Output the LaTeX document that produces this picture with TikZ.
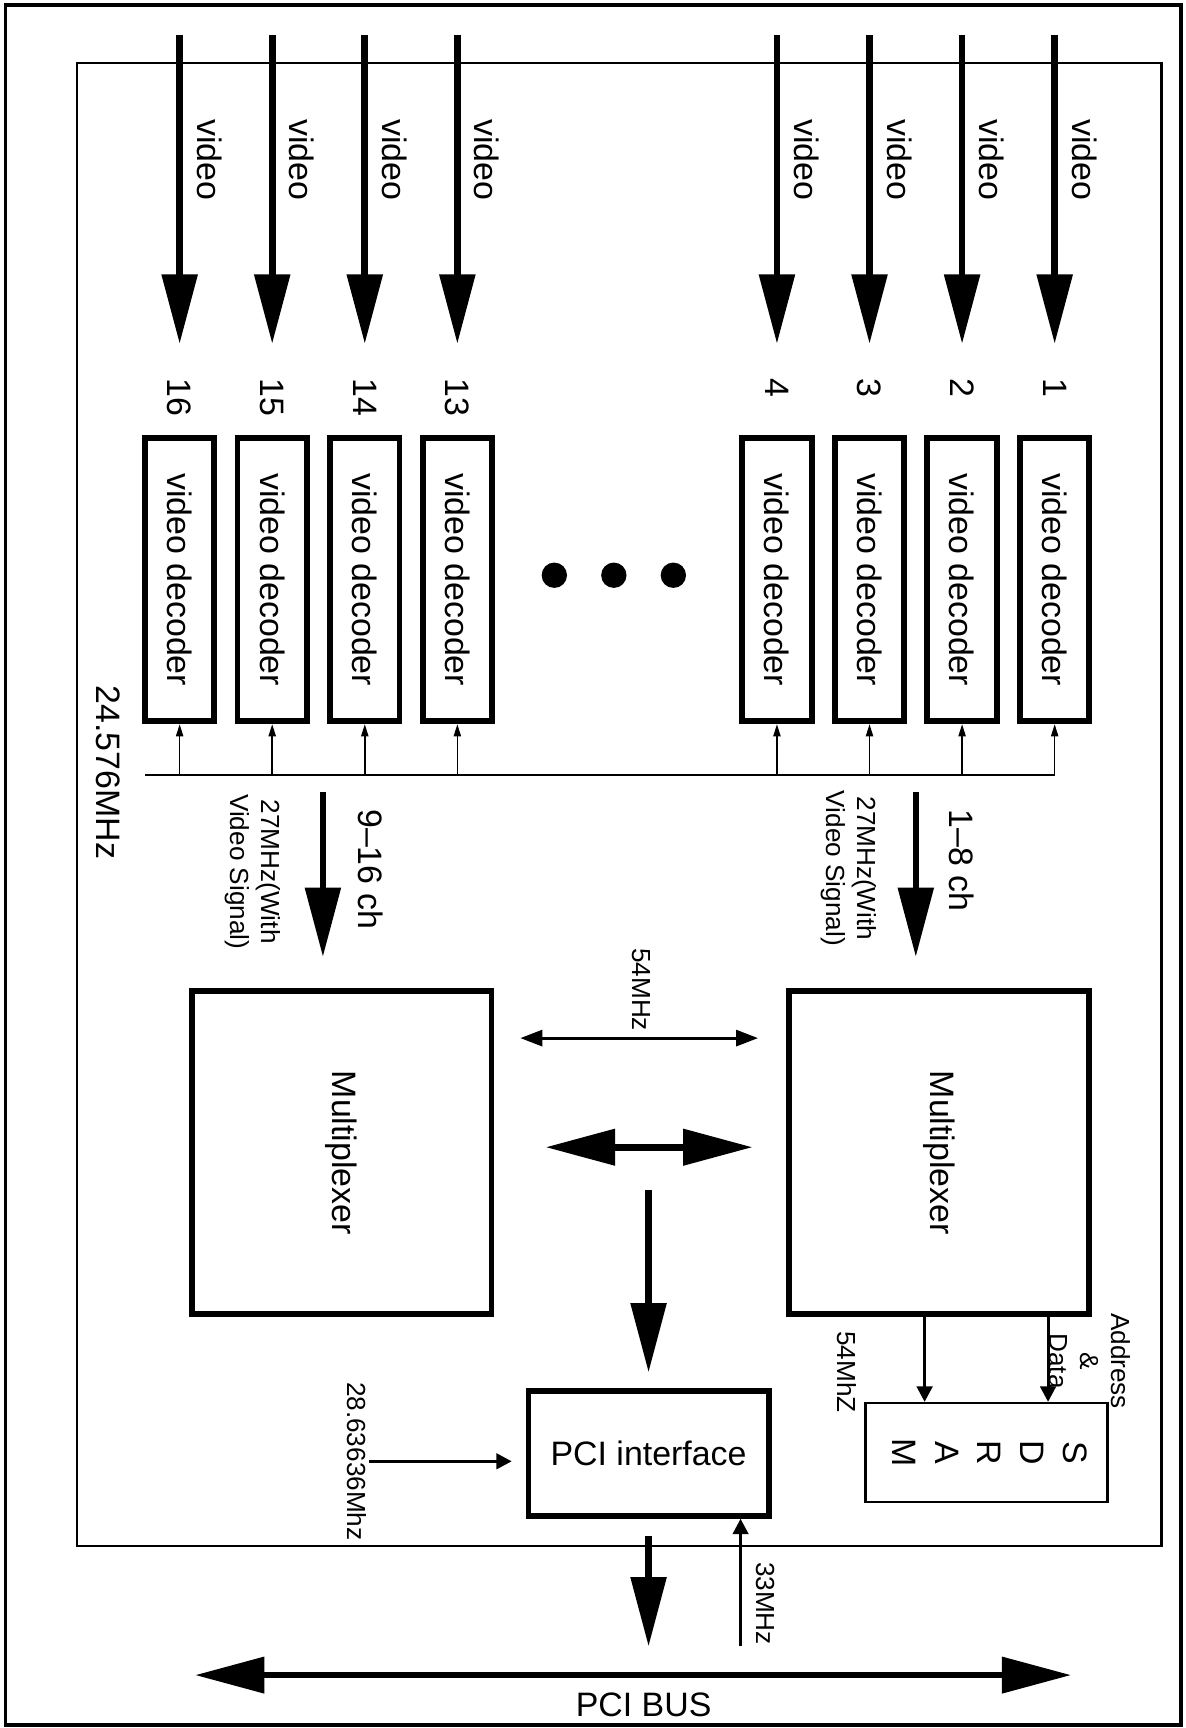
\documentclass[tikz,border=0pt]{standalone}
\usepackage{fontspec}
\setmainfont{Liberation Sans}
\usepackage{graphicx}
\usepackage{tikz}
\usetikzlibrary{arrows.meta, calc}

\begin{document}
\begin{tikzpicture}[
    font=\fontsize{17.5}{21}\selectfont,
    decoder/.style={
        draw,
        line width=3pt,
        minimum width=1.26cm,
        minimum height=5.14cm,
        inner sep=0pt
    },
    mux/.style={
        draw,
        line width=3pt,
        minimum width=5.44cm,
        minimum height=5.86cm
    },
    pcibox/.style={
        draw,
        line width=3pt,
        minimum width=4.36cm,
        minimum height=2.26cm
    },
    sdrambox/.style={
        draw,
        line width=1.3pt,
        minimum width=4.39cm,
        minimum height=1.79cm,
        font=\fontsize{17.5}{22}\selectfont
    },
    num/.style={rotate=-90, anchor=west, inner sep=0pt},
    lbl/.style={rotate=-90, inner sep=1pt, align=center},
    smalllbl/.style={lbl, font=\fontsize{13.5}{16}\selectfont},
    bigarr/.style={-{Triangle[length=1.26cm, width=0.63cm]}, line width=3.4pt},
    bigboth/.style={{Triangle[length=1.26cm, width=0.64cm]}-{Triangle[length=1.26cm, width=0.64cm]}, line width=3.4pt},
    thinboth/.style={{Triangle[length=0.4cm, width=0.29cm]}-{Triangle[length=0.4cm, width=0.29cm]}, line width=1.6pt},
    midarr/.style={-{Triangle[length=0.28cm, width=0.28cm]}, line width=1.6pt},
    clkarr/.style={-{Triangle[length=0.22cm, width=0.13cm]}, line width=0.8pt}
]

\useasboundingbox (0,0) rectangle (21.52,31.36);

% frames
\draw[line width=2pt] (0.1,0.05) rectangle (21.44,31.27);
\draw[line width=1.2pt] (1.4,3.3) rectangle (21.08,30.22);

% video decoders
\node[decoder] (dec16) at (3.26,  20.84) {\rotatebox{-90}{video decoder}};
\node[decoder] (dec15) at (4.94,  20.84) {\rotatebox{-90}{video decoder}};
\node[decoder] (dec14) at (6.62,  20.84) {\rotatebox{-90}{video decoder}};
\node[decoder] (dec13) at (8.30,  20.84) {\rotatebox{-90}{video decoder}};
\node[decoder] (dec4)  at (14.10, 20.84) {\rotatebox{-90}{video decoder}};
\node[decoder] (dec3)  at (15.78, 20.84) {\rotatebox{-90}{video decoder}};
\node[decoder] (dec2)  at (17.46, 20.84) {\rotatebox{-90}{video decoder}};
\node[decoder] (dec1)  at (19.14, 20.84) {\rotatebox{-90}{video decoder}};

\fill (10.06, 20.92) circle (0.23cm);
\fill (11.14, 20.92) circle (0.23cm);
\fill (12.22, 20.92) circle (0.23cm);

% channel numbers
\node[num] (n16) at (3.26,  24.5) {16};
\node[num] (n15) at (4.94,  24.5) {15};
\node[num] (n14) at (6.62,  24.5) {14};
\node[num] (n13) at (8.30,  24.5) {13};
\node[num] (n4)  at (14.10, 24.5) {4};
\node[num] (n3)  at (15.78, 24.5) {3};
\node[num] (n2)  at (17.46, 24.5) {2};
\node[num] (n1)  at (19.14, 24.5) {1};

% video inputs
\coordinate (v16) at (3.26,  30.72);
\coordinate (v15) at (4.94,  30.72);
\coordinate (v14) at (6.62,  30.72);
\coordinate (v13) at (8.30,  30.72);
\coordinate (v4)  at (14.10, 30.72);
\coordinate (v3)  at (15.78, 30.72);
\coordinate (v2)  at (17.46, 30.72);
\coordinate (v1)  at (19.14, 30.72);

\draw[bigarr, shorten >=0.62cm] (v16) -- (n16.west);
\draw[bigarr, shorten >=0.62cm] (v15) -- (n15.west);
\draw[bigarr, shorten >=0.62cm] (v14) -- (n14.west);
\draw[bigarr, shorten >=0.62cm] (v13) -- (n13.west);
\draw[bigarr, shorten >=0.62cm] (v4)  -- (n4.west);
\draw[bigarr, shorten >=0.62cm] (v3)  -- (n3.west);
\draw[bigarr, shorten >=0.62cm] (v2)  -- (n2.west);
\draw[bigarr, shorten >=0.62cm] (v1)  -- (n1.west);

\node[lbl] (vl16) at (3.80,  28.46) {video};
\node[lbl] (vl15) at (5.48,  28.46) {video};
\node[lbl] (vl14) at (7.16,  28.46) {video};
\node[lbl] (vl13) at (8.84,  28.46) {video};
\node[lbl] (vl4)  at (14.64, 28.46) {video};
\node[lbl] (vl3)  at (16.32, 28.46) {video};
\node[lbl] (vl2)  at (18.00, 28.46) {video};
\node[lbl] (vl1)  at (19.68, 28.46) {video};

% clock line
\coordinate (clkL) at (2.64, 17.3);
\coordinate (clkR) at (19.14, 17.3);
\draw[line width=1pt] (clkL) -- (clkR);
\node[lbl] (clk) at (1.96, 17.34) {24.576MHz};

\draw[clkarr] (dec16.south |- clkL) -- (dec16.south);
\draw[clkarr] (dec15.south |- clkL) -- (dec15.south);
\draw[clkarr] (dec14.south |- clkL) -- (dec14.south);
\draw[clkarr] (dec13.south |- clkL) -- (dec13.south);
\draw[clkarr] (dec4.south  |- clkL) -- (dec4.south);
\draw[clkarr] (dec3.south  |- clkL) -- (dec3.south);
\draw[clkarr] (dec2.south  |- clkL) -- (dec2.south);
\draw[clkarr] (dec1.south  |- clkL) -- (dec1.south);

% multiplexers
\node[mux] (muxhi) at (6.2,   10.44) {\rotatebox{-90}{Multiplexer}};
\node[mux] (muxlo) at (17.04, 10.44) {\rotatebox{-90}{Multiplexer}};

\coordinate (chhi) at (5.86,  16.98);
\coordinate (chlo) at (16.62, 16.98);
\draw[bigarr, shorten >=0.57cm] (chhi) -- (chhi |- muxhi.north);
\draw[bigarr, shorten >=0.57cm] (chlo) -- (chlo |- muxlo.north);

\node[lbl]      (chhil) at (6.72,  15.58) {9--16 ch};
\node[lbl]      (chlol) at (17.46, 15.74) {1--8 ch};
\node[smalllbl] (fhi)   at (4.58,  15.54) {27MHz(With\\Video Signal)};
\node[smalllbl] (flo)   at (15.4,  15.6)  {27MHz(With\\Video Signal)};

\draw[thinboth, shorten <=0.47cm, shorten >=0.51cm] ([yshift=2.08cm]muxhi.east) -- ([yshift=2.08cm]muxlo.west);
\node[smalllbl] (f54) at (11.64, 13.4) {54MHz};
\draw[bigboth, shorten <=0.93cm, shorten >=0.61cm] ([yshift=0.1cm]muxhi.east) -- ([yshift=0.1cm]muxlo.west);

% PCI interface
\node[pcibox] (pci) at (11.77, 4.98) {PCI interface};

\coordinate (mixout) at (11.77, 9.76);
\draw[bigarr, shorten >=0.29cm] (mixout) -- (pci.north);

\node[smalllbl] (f28) at (6.48, 4.84) {28.63636Mhz};
\draw[midarr, shorten >=0.25cm] (f28.north) -- (f28.north -| pci.west);

\coordinate (busin) at (11.77, 1.48);
\draw[bigarr, shorten <=0.31cm] (pci.south) -- (busin);

\coordinate (c33) at (13.44, 1.48);
\draw[midarr] (c33) -- (c33 |- pci.south);
\node[smalllbl] (f33) at (13.9, 2.26) {33MHz};

% SDRAM
\node[sdrambox] (sdram) at (17.9, 5.0) {\rotatebox{-90}{\begin{tabular}{@{}c@{}}S\\D\\R\\A\\M\end{tabular}}};

\draw[midarr] ([xshift=-1.12cm]sdram.north |- muxlo.south) -- ([xshift=-1.12cm]sdram.north);
\draw[midarr] ([xshift=1.12cm]sdram.north |- muxlo.south) -- ([xshift=1.12cm]sdram.north);
\node[smalllbl] (f54m) at (15.36, 6.46) {54MhZ};
\node[smalllbl] (adr)  at (19.78, 6.66) {Address\\\&\\Data};

% PCI bus
\coordinate (busL) at (3.54,  0.96);
\coordinate (busR) at (19.44, 0.96);
\draw[bigboth] (busL) -- (busR);
\node (bus) at (11.68, 0.42) {PCI BUS};

\end{tikzpicture}
\end{document}
